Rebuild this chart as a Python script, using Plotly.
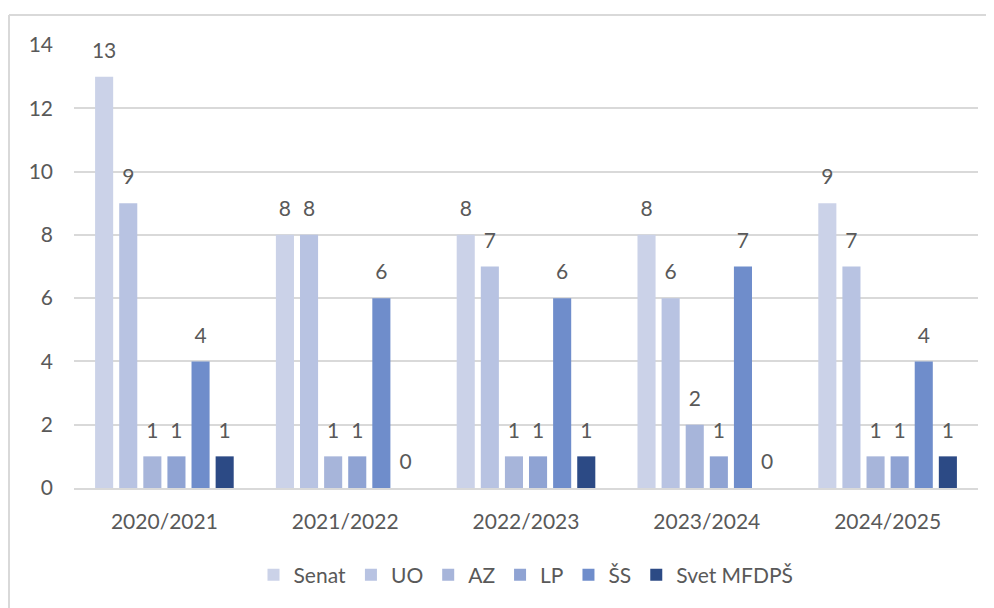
import plotly.graph_objects as go

categories = ["2020/2021", "2021/2022", "2022/2023", "2023/2024", "2024/2025"]
series_names = ["Senat", "UO", "AZ", "LP", "ŠS", "Svet MFDPŠ"]
senat = [13, 8, 8, 8, 9]
uo = [9, 8, 7, 6, 7]
az = [1, 1, 1, 2, 1]
lp = [1, 1, 1, 1, 1]
ss = [4, 6, 6, 7, 4]
svet = [1, 0, 1, 0, 1]
y_ticks = [0, 2, 4, 6, 8, 10, 12, 14]

colors = ["#CBD2E8", "#B8C3E2", "#A7B5DA", "#8FA3D3", "#6F8DCB", "#2C4A85"]
values = [senat, uo, az, lp, ss, svet]

FONT = "Lato, Carlito, Calibri, sans-serif"
TXT = "#595959"

fig = go.Figure()
for name, vals, col in zip(series_names, values, colors):
    fig.add_trace(go.Bar(
        x=categories, y=vals, name=name, marker_color=col, marker_line_width=0,
        offsetgroup=name, alignmentgroup="g",
    ))
for name, vals in zip(series_names, values):
    fig.add_trace(go.Scatter(
        x=categories, y=vals, mode="markers+text", text=[str(v) for v in vals],
        textposition="top center", showlegend=False, hoverinfo="skip",
        marker=dict(size=20, opacity=0), cliponaxis=False,
        offsetgroup=name, alignmentgroup="g",
        textfont=dict(family=FONT, size=21, color=TXT),
    ))

# window is offset by the 8px page margin
W, H = 986, 600
L, R, T, B = 66, 16, 37, 120
pw, ph = W - L - R, H - T - B

def px(x):
    return (x - L) / pw

def py(y):
    return (H - B - y) / ph

fig.update_layout(
    width=W, height=H,
    margin=dict(l=L, r=R, t=T, b=B),
    paper_bgcolor="white", plot_bgcolor="white",
    barmode="group", bargap=0.2, bargroupgap=0.25,
    scattermode="group", scattergap=0.2,
    font=dict(family=FONT, color=TXT, size=21),
    showlegend=True,
    legend=dict(orientation="h", x=0.5, xanchor="center", y=py(567), yanchor="middle",
                font=dict(family=FONT, size=21, color=TXT), itemwidth=30,
                traceorder="normal"),
    xaxis=dict(showgrid=False, ticks="", tickfont=dict(family=FONT, size=21, color=TXT),
               showline=True, linecolor="#D9D9D9", linewidth=2, ticklabelstandoff=14),
    yaxis=dict(range=[0, 14], tickvals=y_ticks, showgrid=True, gridcolor="#D9D9D9",
               gridwidth=2, zeroline=False, showline=False, ticks="",
               tickfont=dict(family=FONT, size=21, color=TXT), ticklabelstandoff=20),
    shapes=[
        dict(type="line", xref="paper", yref="paper", x0=px(1), x1=px(986), y0=py(7), y1=py(7),
             line=dict(color="#D9D9D9", width=2)),
        dict(type="line", xref="paper", yref="paper", x0=px(1), x1=px(1), y0=py(7), y1=py(600),
             line=dict(color="#D9D9D9", width=2)),
    ],
)

fig.write_html("out.html")
